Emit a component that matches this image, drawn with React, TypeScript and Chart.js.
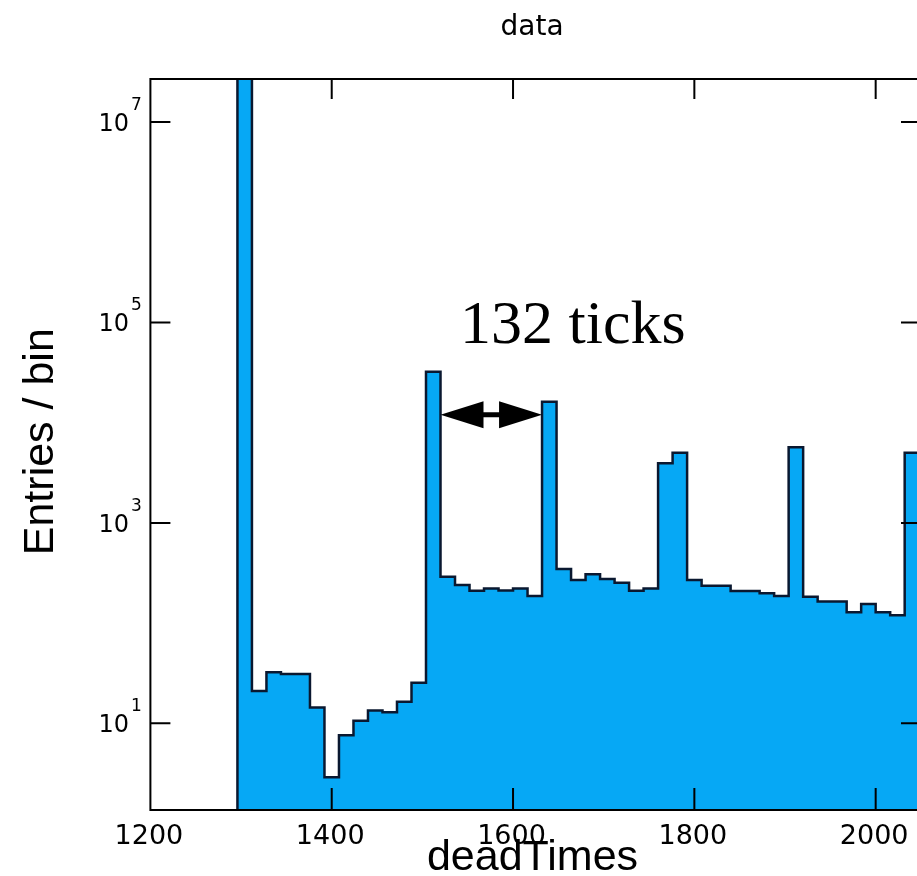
import { useEffect, useRef } from 'react';
import { Chart, registerables } from 'chart.js';

Chart.register(...registerables);

// ---- data ----
const binEdges = [
  1296, 1312, 1328, 1344, 1360, 1376, 1392, 1408, 1424, 1440, 1456, 1472,
  1488, 1504, 1520, 1536, 1552, 1568, 1584, 1600, 1616, 1632, 1648, 1664,
  1680, 1696, 1712, 1728, 1744, 1760, 1776, 1792, 1808, 1824, 1840, 1856,
  1872, 1888, 1904, 1920, 1936, 1952, 1968, 1984, 2000, 2016, 2032, 2048,
];
const binCounts = [
  4.0e7, 21, 32.3, 31, 31, 14.4, 2.9, 7.6, 10.6, 13.4, 12.9, 16.4,
  25.4, 32300, 290, 240, 210, 222, 212, 222, 186, 16200, 347, 269,
  307, 275, 253, 210, 222, 3940, 5020, 269, 236, 236, 209, 209,
  198, 186, 5690, 183, 164, 164, 128, 155, 128, 120, 5020,
];
const xTickValues = [1200, 1400, 1600, 1800, 2000];
const xTickLabels = ['1200', '1400', '1600', '1800', '2000'];
const yTickExponents = [1, 3, 5, 7];
const xRange = [1200, 2050];
const yRange = [1.364, 2.69e7];
const titleText = 'data';
const xTitle = 'deadTimes';
const yTitle = 'Entries / bin';
const annotationText = '132 ticks';
const arrowFrom = 1520;
const arrowTo = 1632;
const arrowLevel = 12000;
const annotationAnchor = { x: 1541.5, y: 62400 };

const FLOOR = 0.1;

const CANVAS_W = 940;
const CANVAS_H = 876;

const framePlugin = {
  id: 'rootFrame',
  afterDraw(chart: any) {
    const { ctx, chartArea: a } = chart;
    const x = chart.scales.x;
    const y = chart.scales.y;
    ctx.save();
    ctx.strokeStyle = '#000';
    ctx.fillStyle = '#000';
    ctx.lineWidth = 2;
    ctx.strokeRect(a.left, a.top, a.right - a.left, a.bottom - a.top);

    // x ticks (bottom and top), inward
    ctx.beginPath();
    for (const v of xTickValues) {
      const px = x.getPixelForValue(v);
      if (px <= a.left + 1) continue;
      ctx.moveTo(px, a.bottom);
      ctx.lineTo(px, a.bottom - 22);
      ctx.moveTo(px, a.top);
      ctx.lineTo(px, a.top + 20);
    }
    // y ticks (left and right), inward
    for (const e of yTickExponents) {
      const py = y.getPixelForValue(Math.pow(10, e));
      ctx.moveTo(a.left, py);
      ctx.lineTo(a.left + 20, py);
      ctx.moveTo(a.right, py);
      ctx.lineTo(a.right - 20, py);
    }
    ctx.stroke();

    // x tick labels
    ctx.font = '27px "DejaVu Sans"';
    ctx.textAlign = 'center';
    ctx.textBaseline = 'alphabetic';
    xTickValues.forEach((v, i) => {
      const px = x.getPixelForValue(v);
      ctx.fillText(xTickLabels[i], px - 1.5, 844);
    });

    // y tick labels 10^n
    for (const e of yTickExponents) {
      const py = y.getPixelForValue(Math.pow(10, e));
      ctx.font = '24px "DejaVu Sans"';
      ctx.textAlign = 'right';
      ctx.fillText('10', 129, py + 9);
      ctx.font = '17px "DejaVu Sans"';
      ctx.textAlign = 'left';
      ctx.fillText(String(e), 131, py - 12);
    }

    // title
    ctx.font = '28px "DejaVu Sans"';
    ctx.textAlign = 'center';
    ctx.fillText(titleText, 532, 35);

    // axis titles
    ctx.font = '43px "Liberation Sans"';
    ctx.textAlign = 'center';
    ctx.fillText(xTitle, 532.5, 870);
    ctx.save();
    ctx.translate(53, 441.7);
    ctx.rotate(-Math.PI / 2);
    ctx.fillText(yTitle, 0, 0);
    ctx.restore();

    // annotation text
    ctx.font = '62px "Liberation Serif"';
    ctx.textAlign = 'left';
    ctx.fillText(
      annotationText,
      x.getPixelForValue(annotationAnchor.x),
      y.getPixelForValue(annotationAnchor.y)
    );

    // double-headed arrow
    const x1 = x.getPixelForValue(arrowFrom);
    const x2 = x.getPixelForValue(arrowTo);
    const ya = y.getPixelForValue(arrowLevel);
    const headL = 43;
    const headH = 13.5;
    ctx.beginPath();
    ctx.moveTo(x1, ya);
    ctx.lineTo(x1 + headL, ya - headH);
    ctx.lineTo(x1 + headL, ya + headH);
    ctx.closePath();
    ctx.fill();
    ctx.beginPath();
    ctx.moveTo(x2, ya);
    ctx.lineTo(x2 - headL, ya - headH);
    ctx.lineTo(x2 - headL, ya + headH);
    ctx.closePath();
    ctx.fill();
    ctx.fillRect(x1 + headL - 1, ya - 2.5, x2 - x1 - 2 * headL + 2, 5);

    ctx.restore();
  },
};

export default function App() {
  const ref = useRef<HTMLCanvasElement | null>(null);
  useEffect(() => {
    if (!ref.current) return;
    const pts: { x: number; y: number }[] = [];
    pts.push({ x: binEdges[0], y: FLOOR });
    binCounts.forEach((c, i) => pts.push({ x: binEdges[i], y: c }));
    pts.push({ x: binEdges[binCounts.length], y: FLOOR });

    const chart = new Chart(ref.current, {
      type: 'line',
      data: {
        datasets: [
          {
            data: pts,
            stepped: 'before',
            fill: 'start',
            backgroundColor: 'rgb(6,168,245)',
            borderColor: '#0a1830',
            borderWidth: 2.5,
            pointRadius: 0,
            tension: 0,
          },
        ],
      },
      options: {
        animation: false,
        responsive: false,
        devicePixelRatio: 1,
        layout: {
          padding: { left: 150.4, top: 79, right: CANVAS_W - 921, bottom: CANVAS_H - 810 },
        },
        plugins: {
          legend: { display: false },
          title: { display: false },
          tooltip: { enabled: false },
        },
        scales: {
          x: { type: 'linear', min: xRange[0], max: xRange[1], display: false },
          y: { type: 'logarithmic', min: yRange[0], max: yRange[1], display: false },
        },
      },
      plugins: [framePlugin],
    });
    return () => chart.destroy();
  }, []);

  return (
    <div
      style={{
        position: 'fixed',
        left: 0,
        top: 0,
        width: 917,
        height: 876,
        overflow: 'hidden',
        background: '#fff',
      }}
    >
      <canvas ref={ref} width={CANVAS_W} height={CANVAS_H} style={{ width: CANVAS_W, height: CANVAS_H, display: 'block' }} />
    </div>
  );
}
